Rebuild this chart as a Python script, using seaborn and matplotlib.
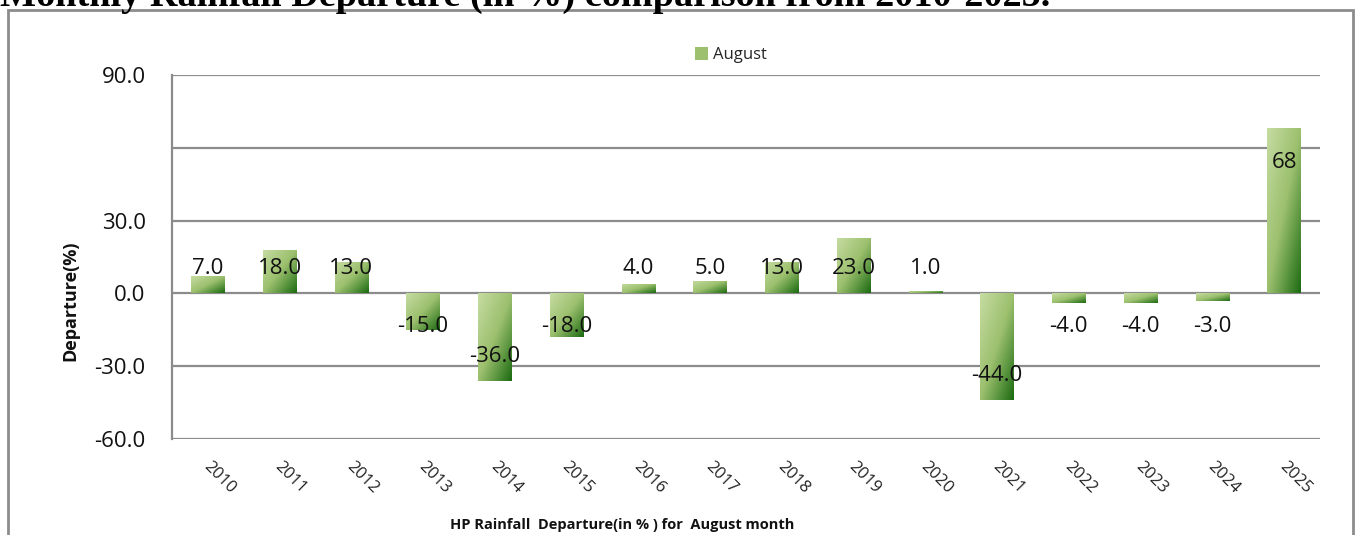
import numpy as np
import pandas as pd
import matplotlib
matplotlib.use("Agg")
from matplotlib import pyplot as plt
from matplotlib.colors import LinearSegmentedColormap
from matplotlib.patches import Rectangle, Patch
from matplotlib.transforms import ScaledTranslation
import seaborn as sns

# data
years = ["2010", "2011", "2012", "2013", "2014", "2015", "2016", "2017",
         "2018", "2019", "2020", "2021", "2022", "2023", "2024", "2025"]
departure = [7.0, 18.0, 13.0, -15.0, -36.0, -18.0, 4.0, 5.0,
             13.0, 23.0, 1.0, -44.0, -4.0, -4.0, -3.0, 68.0]
value_labels = ["7.0", "18.0", "13.0", "-15.0", "-36.0", "-18.0", "4.0", "5.0",
                "13.0", "23.0", "1.0", "-44.0", "-4.0", "-4.0", "-3.0", "68"]
yticks = [-60, -30, 0, 30, 60, 90]
ytick_labels = ["-60.0", "-30.0", "0.0", "30.0", "", "90.0"]

sns.set_theme(style="white")
plt.rcParams['font.family'] = ['Open Sans', 'DejaVu Sans']

W, H = 1361, 535
fig = plt.figure(figsize=(W / 100, H / 100), dpi=100)
ax = fig.add_axes([172 / W, 1 - 439 / H, (1320 - 172) / W, (439 - 75) / H])

df = pd.DataFrame({"year": years, "departure": departure})
sns.barplot(data=df, x="year", y="departure", ax=ax, width=0.47,
            color="#9cbf6c", saturation=1, zorder=3)

# diagonal green gradient inside each bar
cmap = LinearSegmentedColormap.from_list("grn", ["#c6dca2", "#9cc06e", "#1c6b12"])
n = 64
ii, jj = np.mgrid[0:n, 0:n] / (n - 1)
grad = (ii + jj) / 2
for p in ax.patches:
    x0, w = p.get_x(), p.get_width()
    y0, h = p.get_y(), p.get_height()
    lo, hi = min(y0, y0 + h), max(y0, y0 + h)
    im = ax.imshow(grad, cmap=cmap, extent=[x0, x0 + w, lo, hi],
                   aspect="auto", origin="upper", zorder=3, interpolation="bilinear")
    im.set_clip_path(p)
    p.set_facecolor("none")
    p.set_edgecolor("none")

ax.set_xlim(-0.5, len(years) - 0.5)
ax.set_ylim(-60, 90)
ax.set_yticks(yticks)
ax.set_yticklabels(ytick_labels, fontsize=16, color="#111111")
ax.yaxis.grid(True, color="#8c8c8c", lw=1.6)
ax.xaxis.grid(False)
ax.set_axisbelow(True)
for s in ["top", "right", "bottom"]:
    ax.spines[s].set_visible(False)
ax.spines["left"].set_color("#8c8c8c")
ax.spines["left"].set_linewidth(1.6)
ax.tick_params(axis="y", length=0, pad=19)
ax.tick_params(axis="x", length=0, pad=14)
ax.set_xticks(range(len(years)))
ax.set_xticklabels(years, rotation=-45, ha="left", fontsize=12, color="#222222")
off = ScaledTranslation(-0.08, 0, fig.dpi_scale_trans)
for lab in ax.get_xticklabels():
    lab.set_transform(lab.get_transform() + off)
ax.set_xlabel("")
ax.set_ylabel("")

# data labels
for i, (v, lbl) in enumerate(zip(departure, value_labels)):
    if v >= 0:
        ypos = max(10.3, v - 14)
    else:
        ypos = min(-13.6, v + 10)
    ax.text(i, ypos, lbl, ha="center", va="center", fontsize=16,
            color="#111111", zorder=5)

fig.text(70 / W, 1 - 301 / H, "Departure(%)", rotation=90, ha="center", va="center",
         fontsize=13, fontweight="bold", color="#111111")
fig.text(622 / W, 1 - 525 / H, "HP Rainfall  Departure(in % ) for  August month",
         ha="center", va="center", fontsize=10.5, fontweight="bold", color="#111111")

fig.legend(handles=[Patch(facecolor="#9cc06e", edgecolor="none")], labels=["August"],
           loc="center", bbox_to_anchor=(731 / W, 1 - 55 / H), frameon=False,
           fontsize=12, handlelength=0.8, handleheight=0.8, handletextpad=0.3)

fig.text(0.0, 1 - 6 / H, "Monthly Rainfall Departure (in %) comparison from 2010-2025.",
         family="Liberation Serif", fontweight="bold", fontsize=27.5,
         ha="left", va="baseline", color="black")

fig.add_artist(Rectangle((8 / W, -0.05), (1353 - 8) / W, 1 - 10 / H + 0.05,
                         transform=fig.transFigure, fill=False,
                         edgecolor="#8c8c8c", lw=2))

fig.savefig("out.png", dpi=100)
